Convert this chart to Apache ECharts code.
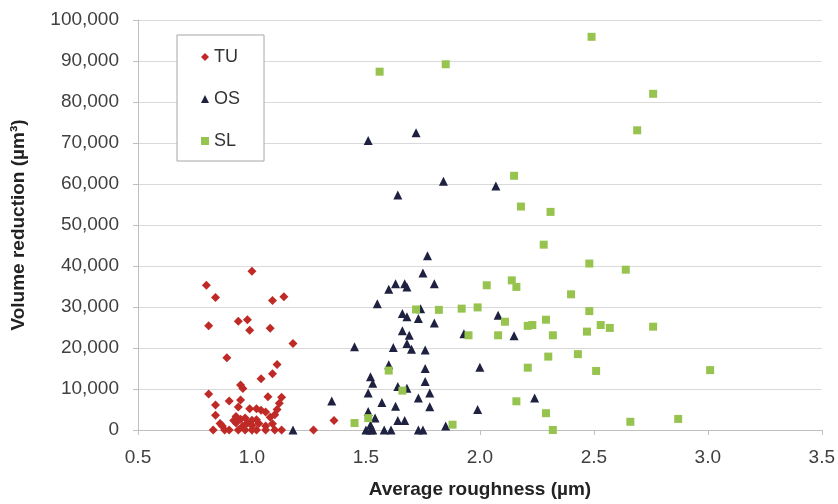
<!DOCTYPE html>
<html>
<head>
<meta charset="utf-8">
<title>Volume reduction vs roughness</title>
<script src="https://cdn.jsdelivr.net/npm/echarts@6/dist/echarts.min.js"></script>
<style>
  html,body{margin:0;padding:0;background:#fff;}
  #chart{width:838px;height:504px;}
</style>
</head>
<body>
<div id="chart"></div>
<script>
// [average roughness (um), volume reduction (um^3)]
var tuData = [
  [1.00,38700],[0.80,35300],[0.84,32300],[1.09,31600],[1.14,32500],
  [0.81,25400],[0.94,26500],[0.98,26900],[0.99,24300],[1.08,24800],
  [1.18,21100],[0.89,17600],[1.11,16000],[1.09,13700],[1.04,12500],
  [0.95,11000],[0.96,10100],[0.81,8800],[1.07,8100],[1.13,8000],
  [0.84,6100],[0.90,7100],[0.95,7300],[0.94,5600],[0.99,5200],
  [1.02,5200],[1.04,4800],[1.06,4400],[1.11,5000],[1.12,6500],
  [1.08,3100],[1.10,3700],[0.84,3600],[0.86,1600],[0.87,1000],
  [1.09,1500],[0.93,3300],[0.95,2600],[0.97,2900],[1.00,2400],
  [1.02,2500],[0.98,1700],[0.93,1700],[0.96,1000],[1.00,1100],
  [0.92,2300],[1.03,1600],[1.06,1000],
  [0.83,0],[0.88,0],[0.90,0],[0.94,0],[0.97,0],[1.00,0],
  [1.02,0],[1.06,0],[1.10,0],[1.13,0],[1.27,0],[1.36,2300]
];
var osData = [
  [1.18,0],[1.35,7100],[1.51,70600],[1.72,72500],[1.84,60700],
  [2.07,59500],[1.64,57300],[1.77,42500],[1.75,38300],[1.60,34300],
  [1.63,35700],[1.67,35700],[1.68,34900],[1.80,35700],[1.55,30800],
  [1.66,28400],[1.68,27600],[1.74,29600],[1.73,27200],[1.80,26100],
  [2.08,28000],[1.93,23500],[2.15,23000],[1.66,24200],[1.69,23100],
  [1.68,21100],[1.45,20300],[1.62,20100],[1.70,19700],[1.76,19500],
  [1.60,15900],[1.76,15000],[2.00,15300],[1.52,13000],[1.53,11400],
  [1.76,11800],[1.64,10600],[1.68,10200],[1.51,9000],[1.78,9000],
  [1.73,7800],[2.24,7800],[1.57,6700],[1.63,5800],[1.78,5700],
  [1.99,5000],[1.51,4500],[1.54,2900],[1.64,2300],[1.67,2300],
  [1.52,1200],[1.85,1000],
  [1.50,0],[1.52,0],[1.53,0],[1.58,0],[1.61,0],[1.73,0],[1.75,0]
];
var slData = [
  [1.56,87400],[1.85,89200],[2.49,95900],[2.76,82000],[2.69,73100],
  [2.15,62000],[2.18,54500],[2.31,53200],[2.28,45200],[2.48,40600],
  [2.64,39100],[2.03,35300],[2.14,36500],[2.16,34900],[2.40,33100],
  [1.72,29400],[1.82,29300],[1.92,29600],[1.99,29900],[2.48,29000],
  [2.11,26400],[2.29,26900],[2.21,25400],[2.23,25600],[2.53,25600],
  [2.57,24900],[2.76,25200],[1.95,23100],[2.08,23100],[2.32,23100],
  [2.47,24000],[2.30,17900],[2.43,18500],[2.21,15200],[2.51,14400],
  [3.01,14600],[1.60,14500],[1.66,9600],[2.16,7000],[2.29,4100],
  [1.51,2900],[1.45,1700],[1.88,1300],[2.32,0],[2.66,2000],[2.87,2700]
];
var seriesNames = ['TU','OS','SL'];
var seriesColors = ['#bf2a26','#1e2140','#97c44f'];

var chart = echarts.init(document.getElementById('chart'));
var font = '"Liberation Sans", Arial, sans-serif';

var option = {
  animation: false,
  backgroundColor: '#fff',
  grid: {left: 138, right: 14, top: 20, bottom: 72},
  legend: {
    orient: 'vertical',
    left: 177, top: 35,
    padding: [13, 24, 11, 24],
    itemGap: 24,
    itemWidth: 8, itemHeight: 8,
    borderColor: '#a6a6a6', borderWidth: 1,
    backgroundColor: '#fff',
    textStyle: {fontFamily: font, fontSize: 18, color: '#333', lineHeight: 18},
    data: [
      {name: seriesNames[0], icon: 'diamond'},
      {name: seriesNames[1], icon: 'triangle'},
      {name: seriesNames[2], icon: 'rect'}
    ]
  },
  xAxis: {
    type: 'value', min: 0.5, max: 3.5, interval: 0.5,
    name: 'Average roughness (µm)', nameLocation: 'middle', nameGap: 50,
    nameTextStyle: {fontFamily: font, fontSize: 19, fontWeight: 'bold', color: '#222'},
    axisLine: {show: true, lineStyle: {color: '#bfbfbf'}},
    axisTick: {show: true, length: 5, lineStyle: {color: '#bfbfbf'}},
    axisLabel: {fontFamily: font, fontSize: 19, color: '#404040', margin: 18,
      formatter: function(v){ return v.toFixed(1); }},
    splitLine: {show: false}
  },
  yAxis: {
    type: 'value', min: 0, max: 100000, interval: 10000,
    name: 'Volume reduction (µm³)', nameLocation: 'middle', nameGap: 110,
    nameTextStyle: {fontFamily: font, fontSize: 19, fontWeight: 'bold', color: '#222'},
    axisLine: {show: true, lineStyle: {color: '#bfbfbf'}},
    axisTick: {show: true, length: 5, lineStyle: {color: '#bfbfbf'}},
    axisLabel: {fontFamily: font, fontSize: 19, color: '#404040', margin: 19,
      formatter: function(v){ return v.toLocaleString('en-US'); }},
    splitLine: {lineStyle: {color: '#d9d9d9'}}
  },
  series: [
    {name: seriesNames[0], type: 'scatter', symbol: 'diamond', symbolSize: 9,
      itemStyle: {color: seriesColors[0], opacity: 1}, data: tuData},
    {name: seriesNames[1], type: 'scatter', symbol: 'triangle', symbolSize: 9,
      itemStyle: {color: seriesColors[1], opacity: 1}, data: osData},
    {name: seriesNames[2], type: 'scatter', symbol: 'rect', symbolSize: 8,
      itemStyle: {color: seriesColors[2], opacity: 1}, data: slData}
  ]
};
chart.setOption(option);
</script>
</body>
</html>
